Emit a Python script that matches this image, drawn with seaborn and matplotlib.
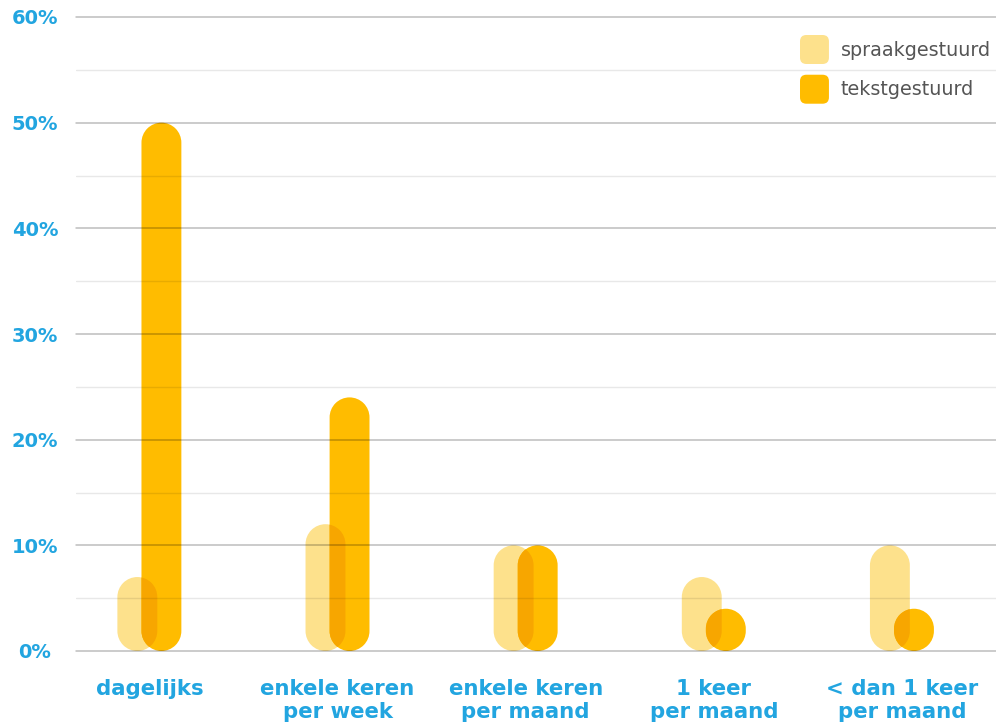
import numpy as np
import pandas as pd
import matplotlib
matplotlib.use("Agg")
import matplotlib.pyplot as plt
import seaborn as sns
from matplotlib.patches import FancyBboxPatch, Patch, PathPatch, BoxStyle
from matplotlib.path import Path
from matplotlib.transforms import Affine2D
from matplotlib.legend_handler import HandlerPatch

# ---- data ----
categories = ["dagelijks", "enkele keren\nper week", "enkele keren\nper maand",
              "1 keer\nper maand", "< dan 1 keer\nper maand"]
series = ["spraakgestuurd", "tekstgestuurd"]
spraak = [7, 12, 10, 7, 10]
tekst = [50, 24, 10, 4, 4]
yticks = [0, 10, 20, 30, 40, 50, 60]
ytick_labels = ["0%", "10%", "20%", "30%", "40%", "50%", "60%"]
minor_ticks = [5, 15, 25, 35, 45, 55]

# ---- style ----
C_SPRAAK = "#FDE18C"
C_TEKST = "#FFBC00"
C_OVERLAP = "#F7A600"
C_BLUE = "#22A5E0"
C_LEG = "#555555"

sns.set_theme(style="white")
plt.rcParams["font.family"] = ["DejaVu Sans"]

W, H = 996, 726
fig = plt.figure(figsize=(W / 100, H / 100), dpi=100)
ax_l, ax_r, ax_t, ax_b = 76, 996, 17, 651
ax = fig.add_axes([ax_l / W, 1 - ax_b / H, (ax_r - ax_l) / W, (ax_b - ax_t) / H])

df = pd.DataFrame({
    "cat": categories * 2,
    "val": spraak + tekst,
    "series": [series[0]] * len(categories) + [series[1]] * len(categories),
})

BAR_W = 0.212
OFFSET = 0.064
sns.barplot(data=df, x="cat", y="val", hue="series", order=categories,
            hue_order=series, palette=[C_SPRAAK, C_TEKST], dodge=False,
            width=BAR_W, legend=False, saturation=1, ax=ax)

XLIM = (-0.39, 4.5)
YLIM = (0, 60)
ax.set_xlim(*XLIM)
ax.set_ylim(*YLIM)

# aspect (pixels per x unit / pixels per y unit) for circular caps
px_x = (ax_r - ax_l) / (XLIM[1] - XLIM[0])
px_y = (ax_b - ax_t) / (YLIM[1] - YLIM[0])
asp = px_x / px_y


def stadium_patch(x, y, w, h, **kw):
    """Pill-shaped patch covering the bar (x, y, w, h) with round ends."""
    r = w / 2
    cx = x + r
    y0, y1 = y / asp, (y + h) / asp
    ry = min(r, (y1 - y0) / 2)
    ab = Path.arc(180, 360)
    at = Path.arc(0, 180)
    vb = ab.vertices * [r, ry] + [cx, y0 + ry]
    vt = at.vertices * [r, ry] + [cx, y1 - ry]
    cb = list(ab.codes)
    ct = list(at.codes)
    ct[0] = Path.LINETO
    verts = np.vstack([vb, vt, vb[:1]])
    codes = cb + ct + [Path.CLOSEPOLY]
    p = PathPatch(Path(verts, codes),
                  transform=Affine2D().scale(1, asp) + ax.transData, **kw)
    return p


rounded = []
for sign, cont in zip([-1, 1], ax.containers):
    group = []
    for bar in cont:
        x = bar.get_x() + sign * OFFSET
        p = stadium_patch(x, bar.get_y(), bar.get_width(), bar.get_height(),
                          facecolor=bar.get_facecolor(), edgecolor="none",
                          zorder=1 + (sign > 0) * 0.5)
        ax.add_patch(p)
        bar.set_visible(False)
        group.append((p, x, bar.get_y(), bar.get_width(), bar.get_height()))
    rounded.append(group)

# darker (multiply-like) overlap where the two bars meet
for (ps, x, y, w, h), (pt, *_rest) in zip(rounded[0], rounded[1]):
    dup = stadium_patch(x, y, w, h, facecolor=C_OVERLAP, edgecolor="none",
                        zorder=1.8)
    ax.add_patch(dup)
    dup.set_clip_path(pt)

# grid
ax.set_axisbelow(False)
ax.set_yticks(yticks, ytick_labels)
ax.set_yticks(minor_ticks, minor=True)
ax.yaxis.grid(True, which="major", color="black", alpha=0.26, lw=1.1)
ax.yaxis.grid(True, which="minor", color="black", alpha=0.09, lw=1.0)
ax.xaxis.grid(False)
for gl in ax.yaxis.get_gridlines():
    gl.set_clip_on(False)
for s in ax.spines.values():
    s.set_visible(False)

ax.tick_params(axis="y", which="both", length=0, pad=29.5, labelsize=14,
               labelcolor=C_BLUE)
for t in ax.get_yticklabels():
    t.set_ha("center")
    t.set_fontweight("bold")

ax.tick_params(axis="x", length=0, pad=20, labelsize=15.3, labelcolor=C_BLUE)
for t in ax.get_xticklabels():
    t.set_fontweight("bold")
    t.set_multialignment("center")
    t.set_linespacing(1.2)
ax.set_xlabel("")
ax.set_ylabel("")


class RoundHandler(HandlerPatch):
    def create_artists(self, legend, orig_handle, xdescent, ydescent,
                       width, height, fontsize, trans):
        p = FancyBboxPatch((-xdescent, -ydescent), width, height,
                           boxstyle=BoxStyle.Round(pad=0, rounding_size=0.22 * height),
                           facecolor=orig_handle.get_facecolor(),
                           edgecolor="none", transform=trans)
        return [p]


handles = [Patch(facecolor=C_SPRAAK), Patch(facecolor=C_TEKST)]
leg = fig.legend(handles, series, loc="upper left",
                 bbox_to_anchor=(800 / W, 1 - 35 / H), bbox_transform=fig.transFigure,
                 frameon=False, borderpad=0, borderaxespad=0, fontsize=13.8,
                 handlelength=1.51, handleheight=1.95, handletextpad=0.6,
                 labelspacing=0.56, labelcolor=C_LEG,
                 handler_map={Patch: RoundHandler()})

fig.savefig("out.png", dpi=100)
